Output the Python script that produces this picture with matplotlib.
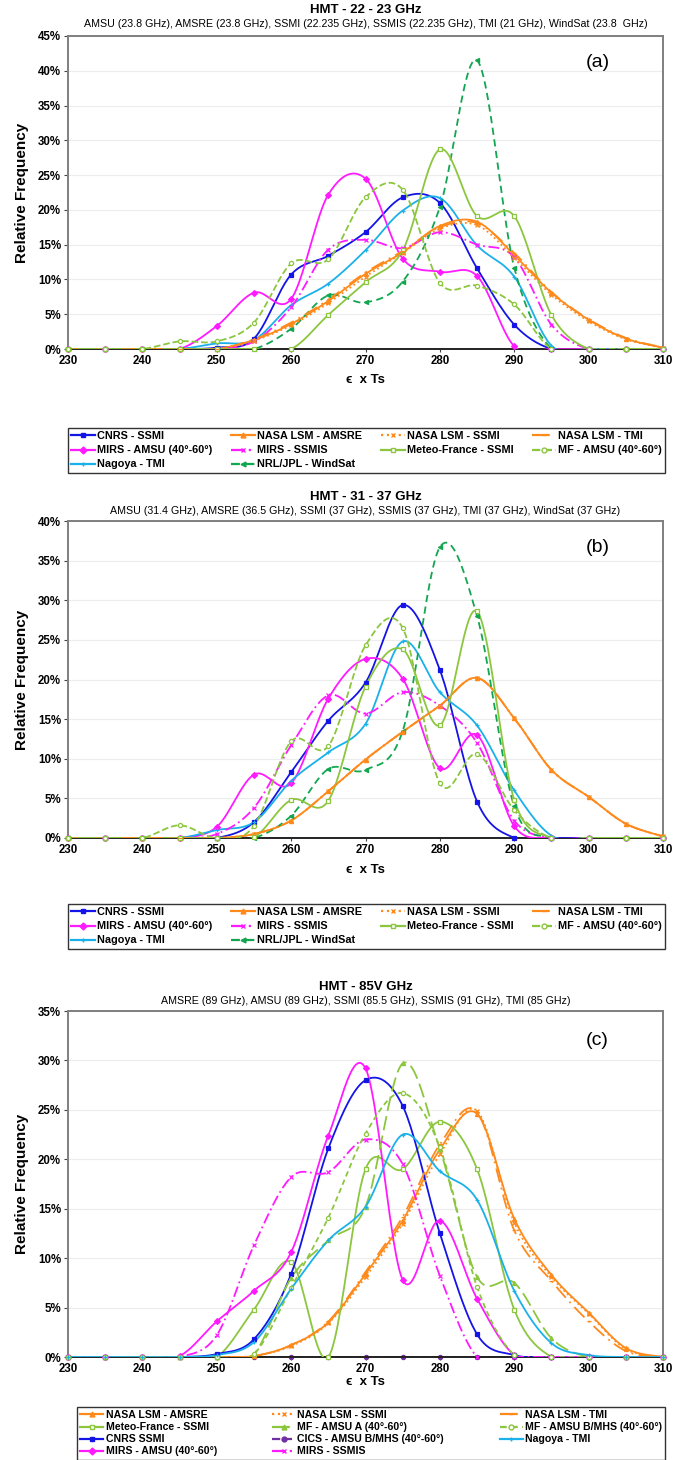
import matplotlib
matplotlib.use("Agg")
import matplotlib.pyplot as plt
import numpy as np

plt.rcParams['font.family'] = ['Liberation Sans', 'DejaVu Sans']

x = [230, 235, 240, 245, 250, 255, 260, 265, 270, 275, 280, 285, 290, 295, 300, 305, 310]
xticks = [230, 240, 250, 260, 270, 280, 290, 300, 310]

# panel (a) HMT 22-23 GHz
a_cnrs = [0, 0, 0, 0, 0.2, 1.5, 10.7, 13.4, 16.8, 21.8, 21.0, 11.6, 3.5, 0, 0, 0, 0]
a_nasa_amsre = [0, 0, 0, 0, 0, 1.3, 3.6, 6.9, 10.8, 13.9, 17.7, 18.3, 13.5, 8.1, 4.2, 1.5, 0.2]
a_nasa_ssmi = [0, 0, 0, 0, 0, 1.2, 3.4, 6.6, 10.4, 13.8, 17.3, 17.8, 13.1, 7.8, 4.0, 1.4, 0.2]
a_nasa_tmi = [0, 0, 0, 0, 0, 1.4, 3.8, 7.1, 11.0, 14.1, 17.5, 18.1, 13.8, 8.2, 4.3, 1.6, 0.2]
a_mirs_amsu = [0, 0, 0, 0, 3.3, 8.1, 7.2, 22.2, 24.5, 13.0, 11.1, 10.5, 0.4, 0, 0, 0, 0]
a_mirs_ssmis = [0, 0, 0, 0, 0, 1.1, 6.0, 14.3, 15.7, 14.5, 16.8, 15.0, 13.2, 3.5, 0, 0, 0]
a_mf_ssmi = [0, 0, 0, 0, 0, 0, 0, 4.9, 9.6, 14.2, 28.7, 19.1, 19.1, 4.9, 0, 0, 0]
a_mf_amsu = [0, 0, 0, 1.1, 1.1, 3.8, 12.3, 12.9, 21.8, 22.9, 9.5, 9.1, 6.4, 0, 0, 0, 0]
a_nagoya = [0, 0, 0, 0, 0.8, 1.3, 6.3, 9.4, 14.2, 19.9, 21.7, 14.9, 10.4, 0.5, 0, 0, 0]
a_nrl = [0, 0, 0, 0, 0, 0, 2.9, 7.7, 6.7, 9.7, 20.4, 41.5, 11.7, 0, 0, 0, 0]

# panel (b) HMT 31-37 GHz
b_cnrs = [0, 0, 0, 0, 0, 2.0, 8.3, 14.8, 19.6, 29.4, 21.2, 4.6, 0, 0, 0, 0, 0]
b_nasa_amsre = [0, 0, 0, 0, 0, 0.5, 2.2, 5.9, 9.9, 13.4, 16.7, 20.2, 15.1, 8.6, 5.2, 1.8, 0.2]
b_nasa_ssmi = [0, 0, 0, 0, 0, 0.5, 2.2, 5.9, 9.9, 13.4, 16.7, 20.2, 15.1, 8.6, 5.2, 1.8, 0.2]
b_nasa_tmi = [0, 0, 0, 0, 0, 0.5, 2.2, 5.9, 9.9, 13.4, 16.7, 20.2, 15.1, 8.6, 5.2, 1.8, 0.2]
b_mirs_amsu = [0, 0, 0, 0, 1.4, 8.0, 6.9, 17.6, 22.6, 20.1, 8.8, 13.0, 1.5, 0, 0, 0, 0]
b_mirs_ssmis = [0, 0, 0, 0, 0.5, 3.8, 11.7, 18.0, 15.7, 18.4, 16.7, 12.0, 2.2, 0, 0, 0, 0]
b_mf_ssmi = [0, 0, 0, 0, 0, 0.1, 4.8, 4.7, 19.1, 23.8, 14.2, 28.6, 4.8, 0, 0, 0, 0]
b_mf_amsu = [0, 0, 0, 1.6, 0, 1.5, 12.2, 11.6, 24.3, 26.5, 6.9, 10.6, 3.5, 0, 0, 0, 0]
b_nagoya = [0, 0, 0, 0, 1.0, 2.0, 7.2, 10.8, 14.4, 24.8, 18.4, 14.2, 6.0, 0.3, 0, 0, 0]
b_nrl = [0, 0, 0, 0, 0, 0, 2.8, 8.7, 8.6, 13.5, 36.7, 28.0, 4.0, 0, 0, 0, 0]

# panel (c) HMT 85V GHz
c_nasa_amsre = [0, 0, 0, 0, 0, 0.1, 1.2, 3.5, 8.4, 13.8, 21.0, 24.6, 14.0, 8.3, 4.5, 0.9, 0]
c_nasa_ssmi = [0, 0, 0, 0, 0, 0.1, 1.1, 3.4, 8.1, 13.5, 20.5, 24.9, 13.6, 8.1, 4.4, 0.8, 0]
c_nasa_tmi = [0, 0, 0, 0, 0, 0.1, 1.2, 3.6, 8.6, 14.2, 21.5, 24.8, 12.8, 7.7, 3.6, 0.6, 0]
c_mf_ssmi = [0, 0, 0, 0, 0, 4.8, 9.6, 0, 19.0, 19.0, 23.8, 19.0, 4.8, 0, 0, 0, 0]
c_mf_amsua = [0, 0, 0, 0, 0, 0.3, 8.0, 11.8, 15.2, 29.7, 21.0, 8.1, 7.5, 1.9, 0, 0, 0]
c_mf_amsub = [0, 0, 0, 0, 0, 0.3, 7.0, 14.1, 22.6, 26.7, 21.2, 7.1, 0.2, 0, 0, 0, 0]
c_cnrs = [0, 0, 0, 0, 0.3, 1.8, 8.4, 21.1, 28.0, 25.4, 12.5, 2.3, 0.2, 0, 0, 0, 0]
c_cics = [0, 0, 0, 0, 0, 0, 0, 0, 0, 0, 0, 0, 0, 0, 0, 0, 0]
c_nagoya = [0, 0, 0, 0, 0.2, 1.5, 6.9, 11.8, 15.2, 22.5, 18.8, 15.9, 6.7, 1.4, 0.2, 0, 0]
c_mirs_amsu = [0, 0, 0, 0.1, 3.6, 6.7, 10.6, 22.4, 29.2, 7.8, 13.8, 5.9, 0.2, 0, 0, 0, 0]
c_mirs_ssmis = [0, 0, 0, 0, 2.2, 11.3, 18.2, 18.7, 22.0, 19.5, 8.2, 0, 0, 0, 0, 0, 0]

BLUE = '#1414e6'
ORANGE = '#ff8a1c'
MAG = '#ff1aff'
YG = '#8cc63f'
CYAN = '#1ab0ea'
GREEN = '#12a651'
PURPLE = '#7030a0'

# styles: color, linestyle, marker, open marker
ST = {
    'cnrs': (BLUE, '-', 's', False),
    'nasa_amsre': (ORANGE, '-', '^', False),
    'nasa_ssmi': (ORANGE, ':', 'x', False),
    'nasa_tmi': (ORANGE, (0, (8, 3, 1, 3)), '_', False),
    'mirs_amsu': (MAG, '-', 'D', False),
    'mirs_ssmis': (MAG, (0, (6, 2, 1, 2)), 'x', False),
    'mf_ssmi': (YG, '-', 's', True),
    'mf_amsu': (YG, '--', 'o', True),
    'mf_amsua': (YG, (0, (8, 3)), '^', False),
    'mf_amsub': (YG, (0, (3, 2)), 'o', True),
    'nagoya': (CYAN, '-', '+', False),
    'nrl': (GREEN, (0, (4, 2.5)), '<', False),
    'cics': (PURPLE, '--', 'o', False),
}


def smooth(xv, yv, n=24):
    # bezier smoothing through the points (like a spreadsheet smoothed line)
    p = np.column_stack([xv, yv]).astype(float)
    q = np.vstack([p[0], p, p[-1]])
    out = []
    t = np.linspace(0, 1, n)[:, None]
    for i in range(len(p) - 1):
        p0, p1, p2, p3 = q[i], q[i + 1], q[i + 2], q[i + 3]
        c1 = p1 + (p2 - p0) / 6.0
        c2 = p2 - (p3 - p1) / 6.0
        seg = ((1 - t) ** 3) * p1 + 3 * ((1 - t) ** 2) * t * c1 + 3 * (1 - t) * t ** 2 * c2 + t ** 3 * p2
        out.append(seg if i == 0 else seg[1:])
    s = np.vstack(out)
    return s[:, 0], s[:, 1]


def draw(ax, key, yv, label):
    col, ls, mk, hollow = ST[key]
    z = 1.5 if key == 'cics' else 3
    sx, sy = smooth(x, yv)
    ax.plot(sx, sy, color=col, ls=ls, lw=1.3, zorder=z)
    ax.plot(x, yv, ls='none', marker=mk, ms=3.0, color=col,
            mfc='white' if hollow else col, mec=col, mew=0.9, clip_on=False, zorder=z + 0.5)
    h, = ax.plot([], [], color=col, ls=ls, lw=1.6, marker=mk, ms=3.5,
                 mfc='white' if hollow else col, mec=col, label=label)
    return h


fig = plt.figure(figsize=(6.76, 14.6), dpi=100)

panels = [
    dict(rect=[68 / 676, 1 - 349 / 1460, 595 / 676, 313 / 1460], ymax=45, tag='(a)',
         title='HMT - 22 - 23 GHz', ty=10,
         sub='AMSU (23.8 GHz), AMSRE (23.8 GHz), SSMI (22.235 GHz), SSMIS (22.235 GHz), TMI (21 GHz), WindSat (23.8  GHz)',
         xl=380, leg=428, ncol=4, fs=7.8, lsp=0.38,
         series=[('cnrs', a_cnrs, 'CNRS - SSMI'), ('mirs_amsu', a_mirs_amsu, 'MIRS - AMSU (40°-60°)'),
                 ('nagoya', a_nagoya, 'Nagoya - TMI'), ('nasa_amsre', a_nasa_amsre, 'NASA LSM - AMSRE'),
                 ('mirs_ssmis', a_mirs_ssmis, 'MIRS - SSMIS'), ('nrl', a_nrl, 'NRL/JPL - WindSat'),
                 ('nasa_ssmi', a_nasa_ssmi, 'NASA LSM - SSMI'), ('mf_ssmi', a_mf_ssmi, 'Meteo-France - SSMI'),
                 ('nasa_tmi', a_nasa_tmi, 'NASA LSM - TMI'), ('mf_amsu', a_mf_amsu, 'MF - AMSU (40°-60°)')]),
    dict(rect=[68 / 676, 1 - 838 / 1460, 595 / 676, 317 / 1460], ymax=40, tag='(b)',
         title='HMT - 31 - 37 GHz', ty=497,
         sub='AMSU (31.4 GHz), AMSRE (36.5 GHz), SSMI (37 GHz), SSMIS (37 GHz), TMI (37 GHz), WindSat (37 GHz)',
         xl=870, leg=904, ncol=4, fs=7.8, lsp=0.38,
         series=[('cnrs', b_cnrs, 'CNRS - SSMI'), ('mirs_amsu', b_mirs_amsu, 'MIRS - AMSU (40°-60°)'),
                 ('nagoya', b_nagoya, 'Nagoya - TMI'), ('nasa_amsre', b_nasa_amsre, 'NASA LSM - AMSRE'),
                 ('mirs_ssmis', b_mirs_ssmis, 'MIRS - SSMIS'), ('nrl', b_nrl, 'NRL/JPL - WindSat'),
                 ('nasa_ssmi', b_nasa_ssmi, 'NASA LSM - SSMI'), ('mf_ssmi', b_mf_ssmi, 'Meteo-France - SSMI'),
                 ('nasa_tmi', b_nasa_tmi, 'NASA LSM - TMI'), ('mf_amsu', b_mf_amsu, 'MF - AMSU (40°-60°)')]),
    dict(rect=[68 / 676, 1 - 1357 / 1460, 595 / 676, 346 / 1460], ymax=35, tag='(c)',
         title='HMT - 85V GHz', ty=987,
         sub='AMSRE (89 GHz), AMSU (89 GHz), SSMI (85.5 GHz), SSMIS (91 GHz), TMI (85 GHz)',
         xl=1382, leg=1407, ncol=3, fs=7.6, lsp=0.2,
         series=[('nasa_amsre', c_nasa_amsre, 'NASA LSM - AMSRE'), ('mf_ssmi', c_mf_ssmi, 'Meteo-France - SSMI'),
                 ('cnrs', c_cnrs, 'CNRS SSMI'), ('mirs_amsu', c_mirs_amsu, 'MIRS - AMSU (40°-60°)'),
                 ('nasa_ssmi', c_nasa_ssmi, 'NASA LSM - SSMI'), ('mf_amsua', c_mf_amsua, 'MF - AMSU A (40°-60°)'),
                 ('cics', c_cics, 'CICS - AMSU B/MHS (40°-60°)'), ('mirs_ssmis', c_mirs_ssmis, 'MIRS - SSMIS'),
                 ('nasa_tmi', c_nasa_tmi, 'NASA LSM - TMI'), ('mf_amsub', c_mf_amsub, 'MF - AMSU B/MHS (40°-60°)'),
                 ('nagoya', c_nagoya, 'Nagoya - TMI')]),
]

for p in panels:
    ax = fig.add_axes(p['rect'])
    handles = []
    for key, vals, lab in p['series']:
        handles.append(draw(ax, key, vals, lab))
    ax.set_xlim(230, 310)
    ax.set_ylim(0, p['ymax'])
    ax.set_xticks(xticks)
    ax.set_yticks(range(0, p['ymax'] + 1, 5))
    ax.set_yticklabels(['%d%%' % v for v in range(0, p['ymax'] + 1, 5)])
    ax.yaxis.grid(True, color='#ececec', lw=0.8)
    ax.set_axisbelow(True)
    for sp in ax.spines.values():
        sp.set_color('#7f7f7f')
        sp.set_linewidth(1.4)
    ax.spines['bottom'].set_color('#222222')
    ax.tick_params(axis='both', labelsize=8.3, length=3, width=0.8, color='#444444', pad=2)
    ax.tick_params(axis='x', length=2)
    for t in ax.get_xticklabels() + ax.get_yticklabels():
        t.set_fontweight('bold')
    ax.text(0.89, 0.915, p['tag'], transform=ax.transAxes, fontsize=14, ha='center', va='center')

    cx = p['rect'][0] + p['rect'][2] / 2
    fig.text(cx, 1 - p['ty'] / 1460, p['title'], ha='center', va='center', fontsize=9.5, fontweight='bold')
    fig.text(cx, 1 - (p['ty'] + 14) / 1460, p['sub'], ha='center', va='center', fontsize=7.7)
    fig.text(cx, 1 - p['xl'] / 1460, '\u03f5  x Ts', ha='center', va='center', fontsize=9.5,
             fontweight='bold', family=['Liberation Sans', 'DejaVu Sans'])
    cy = p['rect'][1] + p['rect'][3] / 2
    fig.text(22 / 676, cy, 'Relative Frequency', rotation=90, ha='center', va='center',
             fontsize=11, fontweight='bold')

    lx = 68 / 676 if p['ncol'] == 4 else 77 / 676
    leg = fig.legend(handles=handles, loc='upper left', ncol=p['ncol'],
                     bbox_to_anchor=(lx, 1 - p['leg'] / 1460, 665 / 676 - lx, 0.0),
                     mode='expand', fancybox=False, edgecolor='#333333', framealpha=1,
                     prop={'size': p['fs'], 'weight': 'bold'}, handlelength=2.2, handletextpad=0.2,
                     borderpad=0.3, labelspacing=p['lsp'], columnspacing=0.5, borderaxespad=0)
    leg.get_frame().set_linewidth(1.0)

fig.savefig('out.png', dpi=100)
